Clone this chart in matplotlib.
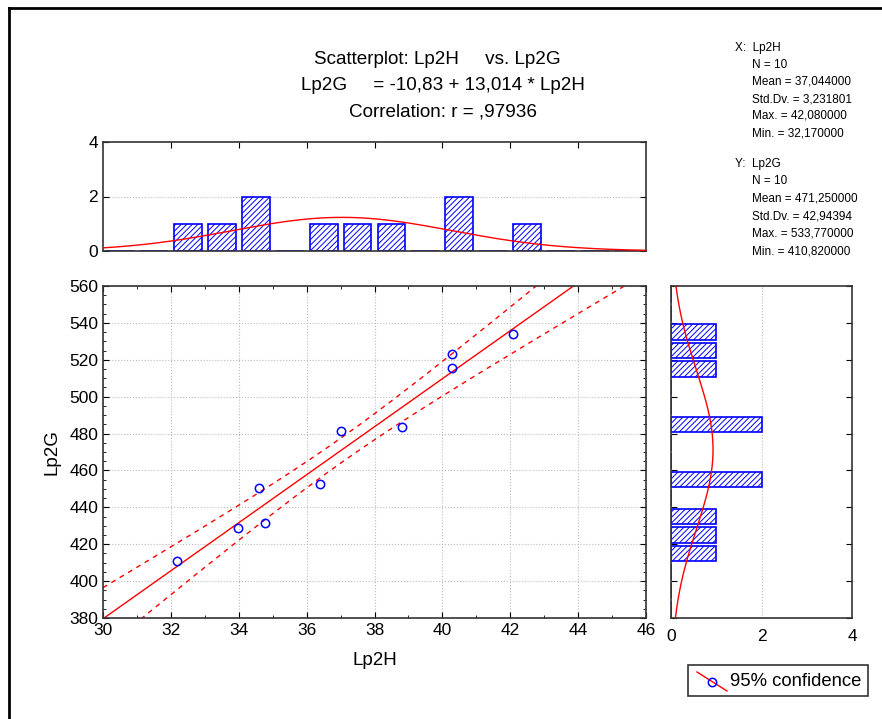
import numpy as np
import matplotlib.pyplot as plt
from matplotlib.lines import Line2D
from matplotlib.patches import Rectangle

plt.rcParams['font.family'] = ['Liberation Sans', 'DejaVu Sans']
plt.rcParams['hatch.linewidth'] = 0.7

# data
lp2h = [32.17, 33.97, 34.60, 34.78, 36.40, 37.00, 38.80, 40.28, 40.28, 42.08]
lp2g = [410.82, 428.8, 450.5, 431.5, 452.6, 481.4, 483.5, 523.1, 515.5, 533.77]

# stated in the chart
intercept, slope = -10.83, 13.014
x_mean, x_sd = 37.044, 3.231801
y_mean, y_sd = 471.25, 42.94394

x_bins = np.arange(30, 47, 1)
y_bins = np.arange(380, 570, 10)

stats_x = ['X:  Lp2H', 'N = 10', 'Mean = 37,044000', 'Std.Dv. = 3,231801',
           'Max. = 42,080000', 'Min. = 32,170000']
stats_y = ['Y:  Lp2G', 'N = 10', 'Mean = 471,250000', 'Std.Dv. = 42,94394',
           'Max. = 533,770000', 'Min. = 410,820000']

W, H = 882, 719
fig = plt.figure(figsize=(W / 100, H / 100), dpi=100)


def fr(x0, y0, x1, y1):
    # pixel box -> figure rect
    return [x0 / W, 1 - y1 / H, (x1 - x0) / W, (y1 - y0) / H]


ax = fig.add_axes(fr(103, 286, 646, 618))
axt = fig.add_axes(fr(103, 142, 646, 251))
axr = fig.add_axes(fr(671, 286, 852, 618))

for a in (ax, axt, axr):
    for s in a.spines.values():
        s.set_color('#333333')
        s.set_linewidth(1.2)
    a.tick_params(direction='in', length=4, labelsize=12.5, top=True, right=True)
    a.tick_params(which='minor', direction='in', length=2, top=True, right=True)

x = np.array(lp2h)
y = np.array(lp2g)
n = len(x)

# main scatter with fit and 95% band
xx = np.linspace(30, 46, 200)
fit = intercept + slope * xx
resid = y - (intercept + slope * x)
s = np.sqrt(np.sum(resid ** 2) / (n - 2))
sxx = np.sum((x - x.mean()) ** 2)
half = 2.306 * s * np.sqrt(1 / n + (xx - x.mean()) ** 2 / sxx)

ax.plot(xx, fit, color='red', lw=1)
ax.plot(xx, fit + half, color='red', lw=1, ls=(0, (3.5, 3.5)))
ax.plot(xx, fit - half, color='red', lw=1, ls=(0, (3.5, 3.5)))
ax.plot(x, y, 'o', mfc='none', mec='blue', ms=6, mew=1.1)
ax.set_xlim(30, 46)
ax.set_ylim(380, 560)
ax.set_xticks(np.arange(30, 47, 2))
ax.set_xticks(np.arange(30, 47, 1), minor=True)
ax.set_yticks(np.arange(380, 561, 20))
ax.set_yticks(np.arange(380, 561, 5), minor=True)
ax.grid(True, color='#bbbbbb', ls=':', lw=0.8)
ax.set_xlabel('Lp2H', fontsize=13.5, labelpad=10)
ax.set_ylabel('Lp2G', fontsize=13.5, labelpad=6)

# top histogram of Lp2H
cnt, _ = np.histogram(x, bins=x_bins)
axt.bar(x_bins[:-1] + 0.5, cnt, width=0.82, color='white', edgecolor='blue',
        hatch='//////', lw=1.2, zorder=2)
curve = n * 1.0 / (x_sd * np.sqrt(2 * np.pi)) * np.exp(-0.5 * ((xx - x_mean) / x_sd) ** 2)
axt.plot(xx, curve, color='red', lw=1, zorder=3)
axt.set_xlim(30, 46)
axt.set_ylim(0, 4)
axt.set_xticks(np.arange(32, 45, 2))
axt.set_xticklabels([])
axt.set_yticks([0, 2, 4])
axt.axhline(2, color='#bbbbbb', ls=':', lw=0.8, zorder=1)
axt.tick_params(bottom=False)

# right histogram of Lp2G
cnt_y, _ = np.histogram(y, bins=y_bins)
axr.barh(y_bins[:-1] + 5, cnt_y, height=8.4, color='white', edgecolor='blue',
         hatch='//////', lw=1.2, zorder=2)
yy = np.linspace(380, 560, 200)
curve_y = n * 10.0 / (y_sd * np.sqrt(2 * np.pi)) * np.exp(-0.5 * ((yy - y_mean) / y_sd) ** 2)
axr.plot(curve_y, yy, color='red', lw=1, zorder=3)
axr.set_ylim(380, 560)
axr.set_xlim(0, 4)
axr.set_xticks([0, 2, 4])
axr.set_yticks(np.arange(380, 561, 20))
axr.set_yticklabels([])
axr.axvline(2, color='#bbbbbb', ls=':', lw=0.8, zorder=1)
axr.tick_params(axis='x', direction='out', top=False, length=0, pad=8)

# titles
fig.text(437 / W, 1 - 60 / H, 'Scatterplot: Lp2H     vs. Lp2G', ha='center', va='center', fontsize=13.6)
fig.text(443 / W, 1 - 86 / H, 'Lp2G     = -10,83 + 13,014 * Lp2H', ha='center', va='center', fontsize=13.6)
fig.text(443 / W, 1 - 112 / H, 'Correlation: r = ,97936', ha='center', va='center', fontsize=13.6)

# stats blocks
for i, t in enumerate(stats_x):
    fig.text((735 if i == 0 else 752) / W, 1 - (48 + 17 * i) / H, t,
             va='center', fontsize=8.5)
for i, t in enumerate(stats_y):
    fig.text((735 if i == 0 else 752) / W, 1 - (164 + 17.4 * i) / H, t,
             va='center', fontsize=8.5)

# legend drawn by hand
fig.add_artist(Rectangle((688 / W, 1 - 696 / H), 180 / W, 31 / H, transform=fig.transFigure,
                         fill=False, edgecolor='#333333', lw=1.2))
fig.add_artist(Line2D([697 / W, 727 / W], [1 - 672 / H, 1 - 691 / H], transform=fig.transFigure,
                      color='red', lw=1))
fig.add_artist(Line2D([712 / W], [1 - 681.5 / H], transform=fig.transFigure, marker='o',
                      mfc='none', mec='blue', ms=6, mew=1.1))
fig.text(730 / W, 1 - 681 / H, '95% confidence', va='center', fontsize=13.3)

# outer frame (top and left edges)
fig.add_artist(Line2D([9 / W, 1], [1 - 8 / H, 1 - 8 / H], transform=fig.transFigure, color='black', lw=2))
fig.add_artist(Line2D([9 / W, 9 / W], [0, 1 - 8 / H], transform=fig.transFigure, color='black', lw=2))

fig.savefig('out.png', dpi=100)
